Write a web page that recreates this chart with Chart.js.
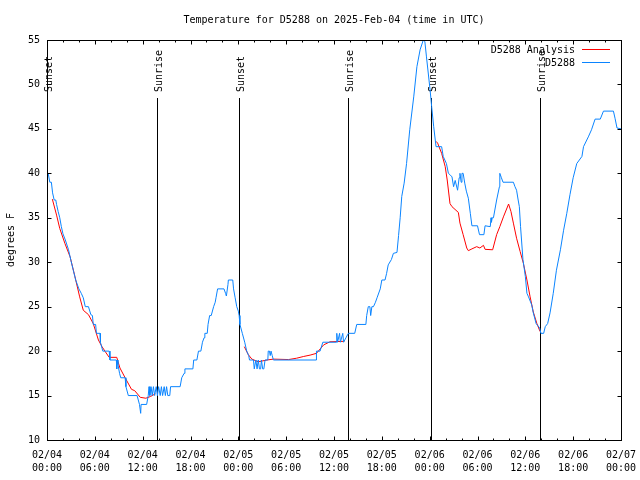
<!DOCTYPE html>
<html>
<head>
<meta charset="utf-8">
<script src="https://cdn.jsdelivr.net/npm/chart.js@4.4.1/dist/chart.umd.min.js"></script>
<style>
  body { margin: 0; background: #fff; }
  canvas { display: block; }
</style>
</head>
<body>
<canvas id="js-chart-temp" width="640" height="480"></canvas>
<script>
// Hours since 02/04 00:00 UTC and observed temperature (degrees F)
const obsHours = [
  0.0, 0.15, 0.35, 0.55, 0.7, 0.9, 1.1, 1.2, 1.4, 1.6, 1.8, 2.0, 2.3, 2.7, 3.0, 3.3, 3.6, 4.0, 4.3, 4.55,
  4.8, 5.2, 5.5, 5.7, 5.8, 6.1, 6.2, 6.65, 6.7, 7.0, 7.8, 7.9, 8.7, 8.75, 8.8, 8.9, 9.1, 9.25, 9.8, 9.9,
  10.2, 11.3, 11.6, 11.75, 11.8, 12.5, 12.7, 12.8, 12.9, 13.05, 13.2, 13.35, 13.5, 13.7, 13.85, 14.0, 14.2, 14.35, 14.5, 14.7,
  14.85, 15.0, 15.15, 15.4, 15.5, 16.7, 16.9, 17.2, 17.3, 18.3, 18.4, 18.8, 19.0, 19.3, 19.5, 19.7, 19.8, 20.1, 20.2, 20.4,
  20.6, 20.9, 21.1, 21.2, 21.4, 22.2, 22.4, 22.5, 22.7, 22.75, 23.3, 23.4, 23.6, 23.8, 24.0, 24.1, 24.2, 24.5, 24.8, 25.05,
  25.3, 25.4, 25.9, 26.0, 26.2, 26.35, 26.5, 26.65, 26.8, 26.9, 27.05, 27.2, 27.35, 27.7, 27.75, 27.9, 28.0, 28.1, 28.25, 28.4,
  33.75, 33.8, 34.25, 34.6, 36.3, 36.35, 36.45, 36.7, 36.8, 37.1, 37.2, 37.5, 37.8, 38.6, 38.85, 40.0, 40.1, 40.3, 40.5, 40.6,
  40.75, 40.95, 41.2, 41.4, 41.8, 42.0, 42.4, 42.6, 42.8, 43.2, 43.45, 43.9, 44.1, 44.3, 44.5, 44.8, 45.1, 45.5, 46.0, 46.4,
  46.8, 47.2, 47.4, 47.6, 48.05, 48.25, 48.5, 48.8, 49.5, 49.7, 50.1, 50.35, 50.6, 50.8, 51.0, 51.2, 51.5, 51.7, 51.8, 51.95,
  52.05, 52.2, 52.4, 52.6, 52.85, 53.1, 53.3, 54.0, 54.25, 54.8, 54.95, 55.6, 55.7, 55.75, 55.85, 56.0, 56.4, 56.75, 56.8, 57.0,
  57.2, 58.5, 58.7, 58.9, 59.1, 59.25, 59.4, 59.7, 60.0, 60.2, 60.4, 60.8, 61.0, 61.35, 61.8, 61.95, 62.3, 62.5, 62.8, 63.1,
  63.5, 63.9, 64.4, 64.8, 65.2, 65.6, 66.0, 66.45, 67.1, 67.3, 67.9, 68.3, 68.75, 69.4, 69.8, 71.05, 71.25, 71.5, 72.0
];
const obsTemps = [
  40, 40, 39, 39, 37.8, 37, 37, 36.5, 35.7, 35, 34, 33.2, 32.5, 31.4, 30.2, 29.1, 28, 27, 26.5, 26,
  25, 25, 24.1, 24, 23, 23, 22, 22, 21, 20, 20, 19, 19, 18, 19, 18.5, 17.5, 17, 17, 16,
  15, 15, 14, 13, 14, 14, 15, 16, 15, 16, 15, 16, 15, 16, 15, 16, 15, 16, 15, 16,
  15, 16, 15, 15, 16, 16, 17, 17.5, 18, 18, 19, 19, 20, 20, 21, 21.5, 22, 22, 23, 24,
  24, 25, 25.5, 26, 27, 27, 26.5, 26.2, 27.5, 28, 28, 27, 26, 25, 24.5, 24, 23, 22, 21, 20,
  19.5, 19, 19, 18, 19, 18, 19, 18, 18, 19, 18, 18, 19, 19, 20, 20, 19.5, 20, 19.5, 19,
  19, 20, 20, 21, 21, 22, 21, 22, 21, 22, 21, 21.5, 22, 22, 23, 23, 24, 25, 25, 24,
  25, 25, 25.5, 26, 27, 28, 28, 28.75, 29.7, 30.3, 31, 31.1, 33, 35, 37.4, 38.9, 41.1, 44.9, 48.6, 52,
  53.9, 55, 54.8, 53.1, 49.4, 47.5, 45.3, 43, 43, 41.9, 41.1, 40, 39.8, 39.6, 38.5, 39.2, 38.1, 39.5, 40, 39,
  40, 40, 38.9, 38, 37.2, 35.5, 34.1, 34.1, 33.1, 33.1, 34.1, 34, 35, 34.5, 35, 35, 37, 38.5, 40, 39.5,
  39, 39, 38.5, 38.1, 37, 36.25, 34, 30.3, 28.4, 26.5, 26.1, 25.2, 24.3, 23.1, 22.6, 22, 22, 22.75, 23.1, 24.3,
  26.5, 29.1, 31.4, 33.6, 35.5, 37.6, 39.5, 41.1, 41.9, 43, 44.1, 44.9, 46.1, 46.1, 47, 47, 46.2, 45.1, 45
];

// Analysis series (null splits the three segments)
const anaHours = [
  0.67, 1.2, 1.6, 2.25, 2.9, 3.5, 4.1, 4.55, 5.2, 5.8, 6.45, 6.9, 7.3, 7.8, 8.75, 9.15, 9.8, 10.6, 11.0, 11.7,
  12.4, 13.0, 13.6, 18.0,
  24.75, 25.25, 25.7, 26.5, 27.6, 28.4, 30.3, 31.3, 32.2, 33.0, 33.8, 34.7, 35.5, 37.3, 42.0,
  48.8, 49.0, 49.5, 49.95, 50.2, 50.55, 50.8, 51.6, 51.8, 52.2, 52.65, 52.85, 53.3, 53.9, 54.3, 54.75, 54.95, 55.9, 56.4, 56.8,
  57.25, 57.7, 57.9, 58.2, 58.5, 58.9, 59.35, 59.75, 60.2, 60.6, 61.0, 61.45, 61.85
];
const anaTemps = [
  37.1, 35.3, 33.8, 32.1, 30.6, 28.4, 26.1, 24.6, 24.1, 23.1, 21.25, 20.5, 19.95, 19.3, 19.3, 18.1, 17, 15.7, 15.55, 14.8,
  14.7, 14.9, 15.2, null,
  20.5, 19.6, 19.1, 18.8, 19, 19.1, 19.05, 19.2, 19.4, 19.55, 19.75, 20.7, 21.05, 21.1, null,
  43.6, 43.4, 42.25, 40.75, 39.25, 36.6, 36.25, 35.6, 34.4, 33.1, 31.6, 31.3, 31.5, 31.75, 31.6, 31.9, 31.45, 31.4, 33.1, 34,
  35.1, 36.1, 36.55, 35.7, 34.4, 32.7, 31.2, 29.9, 28, 26.1, 24.4, 23.1, 22.2
];

// Sun events (hours since 02/04 00:00 UTC)
const sunHours = [0.05, 13.8, 24.1, 37.75, 48.15, 61.8];
const sunLabels = ['Sunset', 'Sunrise', 'Sunset', 'Sunrise', 'Sunset', 'Sunrise'];

// Tick labels, one per 6 hours
const xTickDates = ['02/04', '02/04', '02/04', '02/04', '02/05', '02/05', '02/05', '02/05', '02/06', '02/06', '02/06', '02/06', '02/07'];
const xTickTimes = ['00:00', '06:00', '12:00', '18:00', '00:00', '06:00', '12:00', '18:00', '00:00', '06:00', '12:00', '18:00', '00:00'];

const chartTitle = 'Temperature for D5288 on 2025-Feb-04 (time in UTC)';
const yTitle = 'degrees F';

const FONT = '"DejaVu Sans Mono", "Liberation Mono", monospace';
const RED = '#ff0000';
const BLUE = '#0a84ff';

function toPoints(hours, temps) {
  return hours.map((h, i) => ({ x: h, y: temps[i] }));
}

// gnuplot-like frame: box, inward ticks, title, legend, sun lines
const gnuplotFrame = {
  id: 'gnuplotFrame',
  beforeDatasetsDraw(chart) {
    const ctx = chart.ctx;
    const area = chart.chartArea;
    const xs = chart.scales.x;
    ctx.save();
    ctx.strokeStyle = '#000';
    ctx.lineWidth = 1;
    ctx.fillStyle = '#000';
    ctx.font = '10px ' + FONT;
    sunHours.forEach((h, i) => {
      const px = Math.round(xs.getPixelForValue(h)) + 0.5;
      ctx.beginPath();
      ctx.moveTo(px, 98);
      ctx.lineTo(px, area.bottom);
      ctx.stroke();
      ctx.save();
      ctx.translate(px + 2, 92);
      ctx.rotate(-Math.PI / 2);
      ctx.textAlign = 'left';
      ctx.textBaseline = 'middle';
      ctx.fillText(sunLabels[i], 0, 0);
      ctx.restore();
    });
    ctx.restore();
  },
  afterDraw(chart) {
    const ctx = chart.ctx;
    const area = chart.chartArea;
    const xs = chart.scales.x;
    const ys = chart.scales.y;
    const l = Math.round(area.left) + 0.5, r = Math.round(area.right) + 0.5;
    const t = Math.round(area.top) + 0.5, b = Math.round(area.bottom) + 0.5;

    ctx.save();
    ctx.strokeStyle = '#000';
    ctx.lineWidth = 1;
    ctx.strokeRect(l, t, r - l, b - t);

    ctx.beginPath();
    // x ticks every 2 hours, long every 6
    for (let h = 0; h <= 72; h += 2) {
      const px = Math.round(xs.getPixelForValue(h)) + 0.5;
      const len = h % 6 === 0 ? 4 : 2;
      ctx.moveTo(px, b); ctx.lineTo(px, b - len);
      ctx.moveTo(px, t); ctx.lineTo(px, t + len);
    }
    // y ticks every 5 degrees
    for (let v = 10; v <= 55; v += 5) {
      const py = Math.round(ys.getPixelForValue(v)) + 0.5;
      ctx.moveTo(l, py); ctx.lineTo(l + 4, py);
      ctx.moveTo(r, py); ctx.lineTo(r - 4, py);
    }
    ctx.stroke();

    ctx.fillStyle = '#000';
    ctx.font = '10px ' + FONT;
    ctx.textAlign = 'center';
    ctx.textBaseline = 'middle';
    ctx.fillText(chartTitle, (area.left + area.right) / 2, 20);

    ctx.save();
    ctx.translate(11, (area.top + area.bottom) / 2);
    ctx.rotate(-Math.PI / 2);
    ctx.fillText(yTitle, 0, 0);
    ctx.restore();

    // legend
    const items = [chart.data.datasets[1], chart.data.datasets[0]];
    items.forEach((ds, i) => {
      const y = 50 + i * 13;
      ctx.textAlign = 'right';
      ctx.fillText(ds.label, 575, y);
      ctx.strokeStyle = ds.borderColor;
      ctx.beginPath();
      ctx.moveTo(582, y - 0.5);
      ctx.lineTo(610, y - 0.5);
      ctx.stroke();
    });
    ctx.restore();
  }
};

new Chart(document.getElementById('js-chart-temp'), {
  type: 'line',
  data: {
    datasets: [
      {
        label: 'D5288',
        data: toPoints(obsHours, obsTemps),
        borderColor: BLUE,
        borderWidth: 1,
        pointRadius: 0,
        tension: 0,
        order: 0
      },
      {
        label: 'D5288 Analysis',
        data: toPoints(anaHours, anaTemps),
        borderColor: RED,
        borderWidth: 1,
        pointRadius: 0,
        tension: 0,
        spanGaps: false,
        order: 1
      }
    ]
  },
  options: {
    responsive: false,
    animation: false,
    events: [],
    layout: { padding: { top: 40, right: 19, left: 0, bottom: 0 } },
    scales: {
      x: {
        type: 'linear',
        min: 0,
        max: 72,
        grid: { display: false, drawTicks: false },
        border: { display: false },
        ticks: {
          stepSize: 6,
          autoSkip: false,
          maxRotation: 0,
          padding: 9,
          color: '#000',
          font: { family: FONT, size: 10, lineHeight: 1.3 },
          callback: function (value) {
            const i = Math.round(value / 6);
            return [xTickDates[i], xTickTimes[i]];
          }
        },
        afterFit: function (scale) {
          scale.height = 40;
          scale.paddingLeft = 0;
          scale.paddingRight = 0;
        }
      },
      y: {
        min: 10,
        max: 55,
        grid: { display: false, drawTicks: false },
        border: { display: false },
        ticks: {
          stepSize: 5,
          padding: 7,
          color: '#000',
          font: { family: FONT, size: 10 }
        },
        afterFit: function (scale) {
          scale.width = 47;
          scale.paddingTop = 0;
          scale.paddingBottom = 0;
        }
      }
    },
    plugins: {
      legend: { display: false },
      title: { display: false },
      tooltip: { enabled: false }
    }
  },
  plugins: [gnuplotFrame]
});
</script>
</body>
</html>
